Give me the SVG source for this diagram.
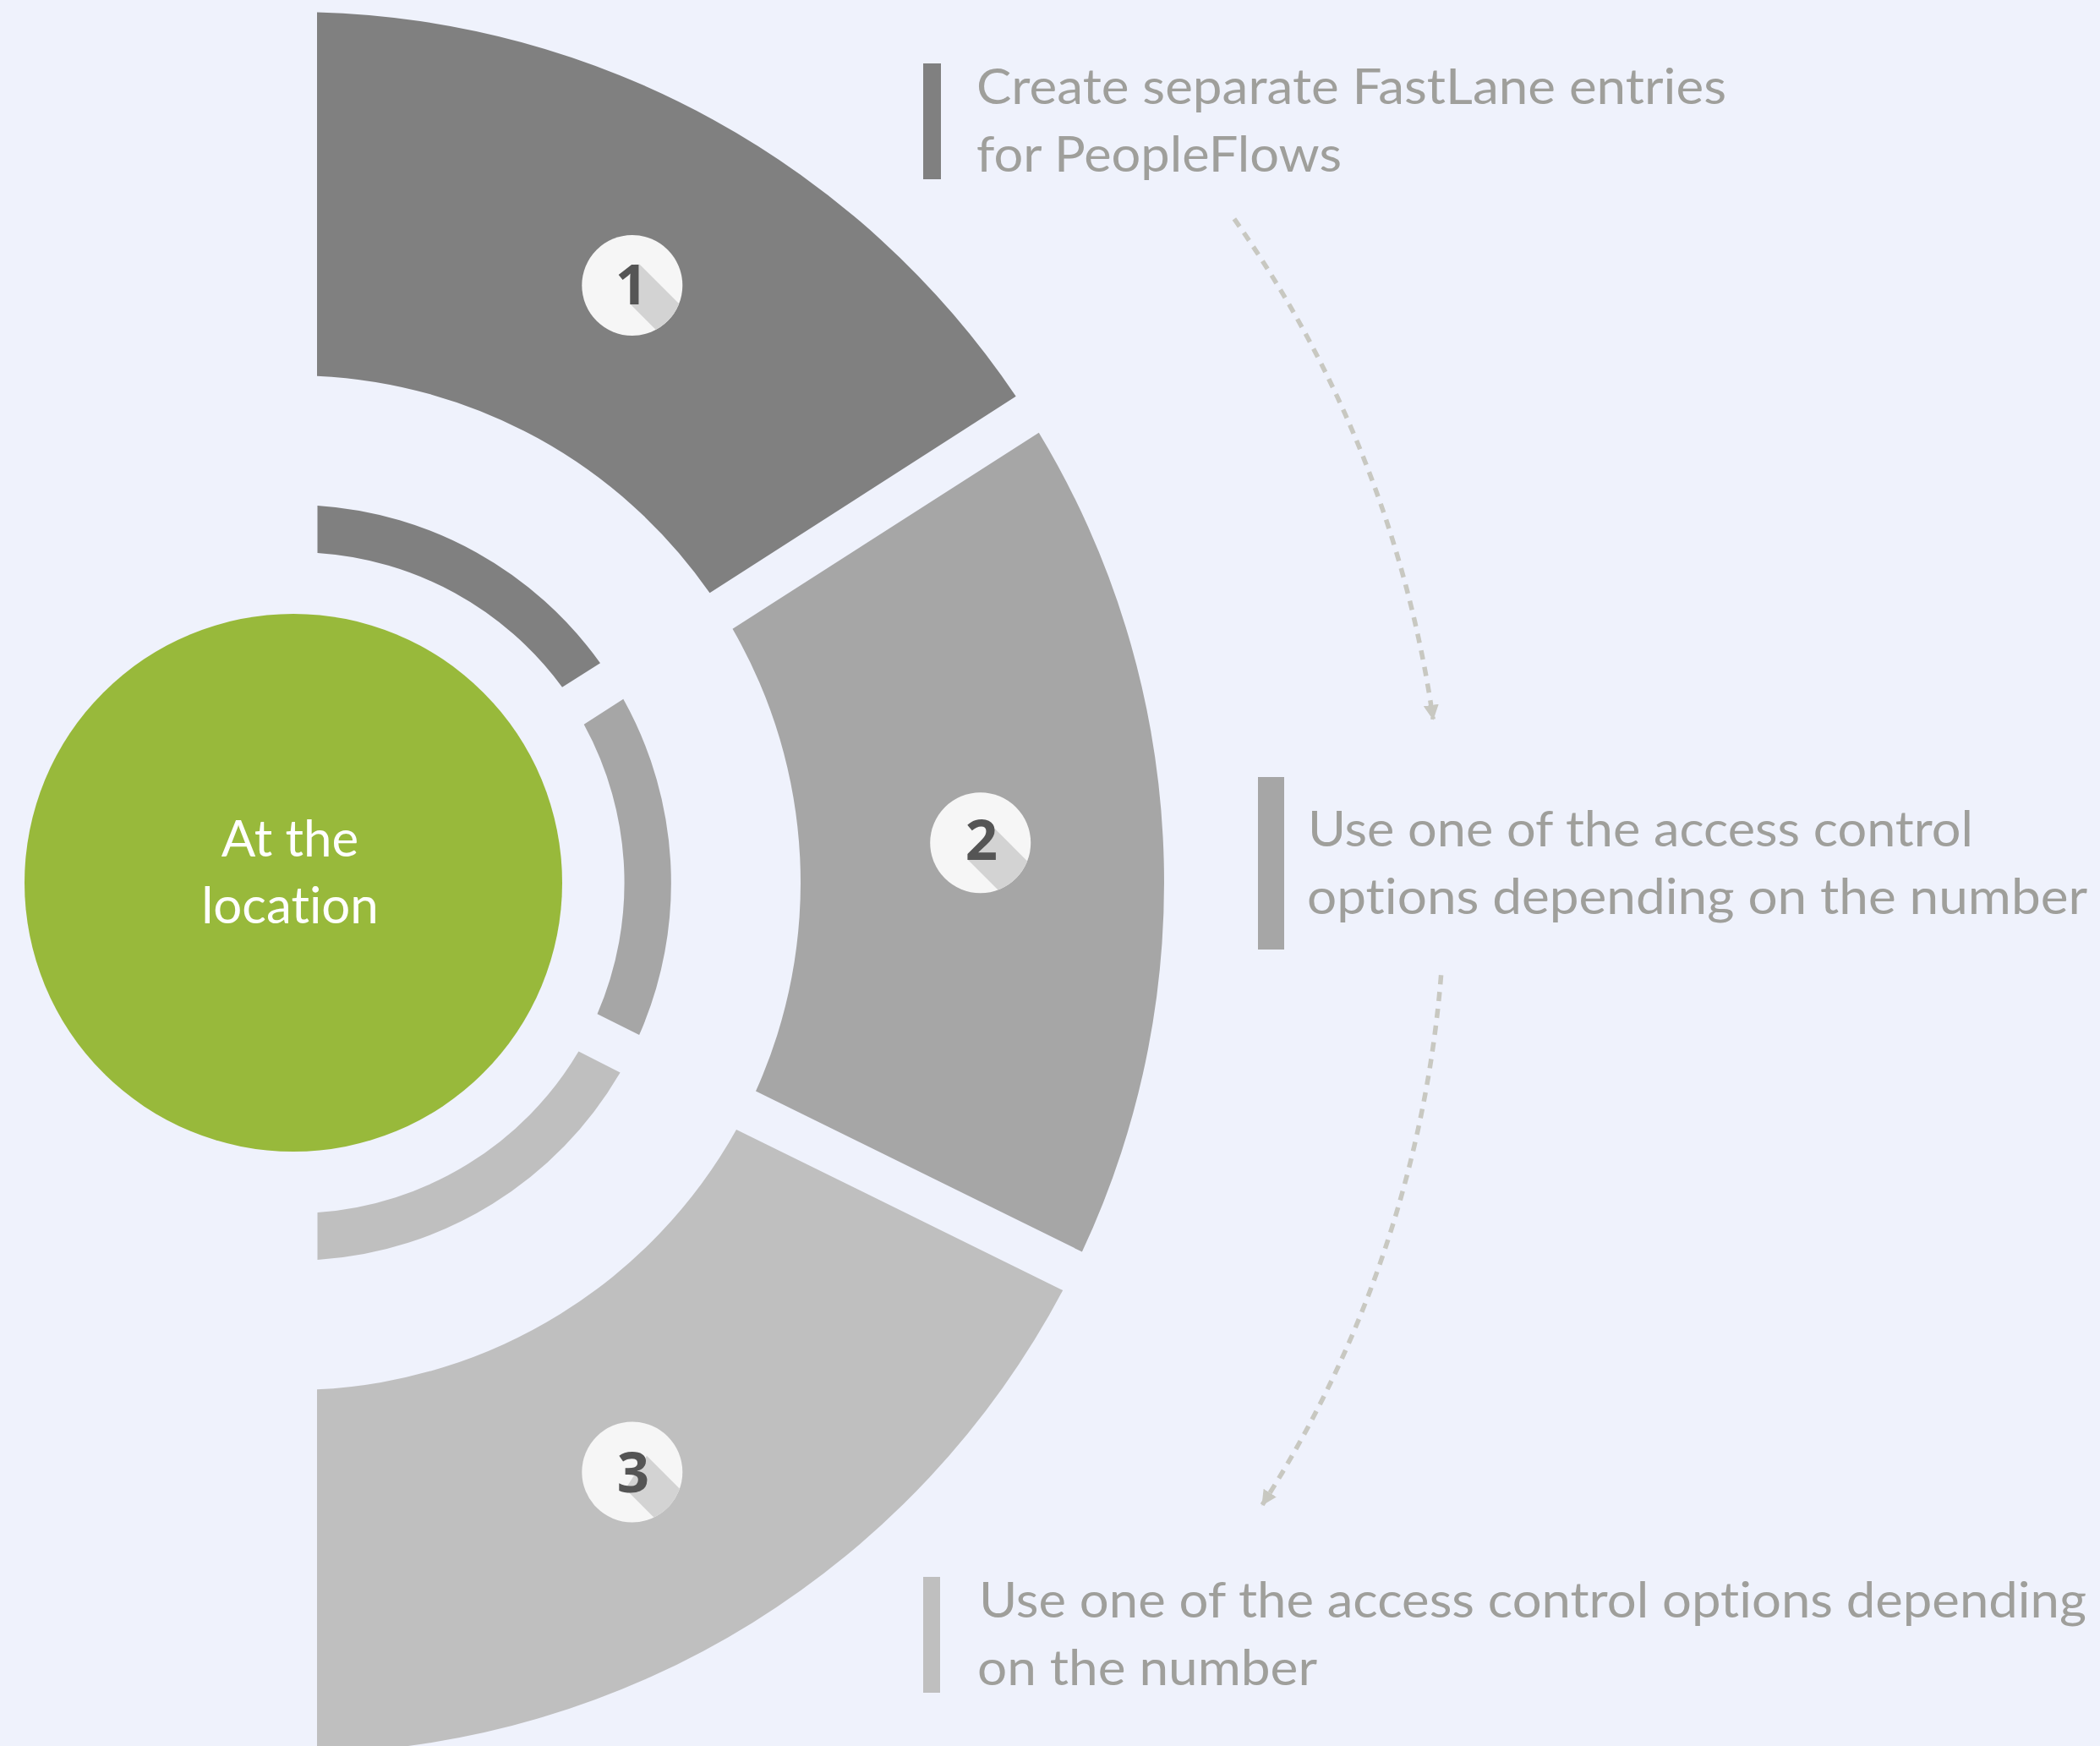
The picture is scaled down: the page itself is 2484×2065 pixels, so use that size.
<svg xmlns="http://www.w3.org/2000/svg" width="2484" height="2065" viewBox="0 0 2484 2065">
  <style>
    .bg { fill: #eff2fc; }
    .seg1 { fill: #808080; }
    .seg2 { fill: #a6a6a6; }
    .seg3 { fill: #bfbfbf; }
    .badge { fill: #f6f6f6; }
    .shadow { fill: #d3d3d3; }
    text { font-variant-ligatures: none; font-feature-settings: "liga" 0, "clig" 0, "dlig" 0; }
    .num { font-family: "Open Sans", "DejaVu Sans", sans-serif; font-weight: 700; font-size: 67px; fill: #555555; text-anchor: middle; }
    .desc { font-family: Lato, "Liberation Sans", sans-serif; font-size: 58px; fill: #9f9f9b; }
    .label { font-family: Lato, "Liberation Sans", sans-serif; font-size: 60px; fill: #ffffff; text-anchor: middle; }
    .conn { fill: none; stroke: #c8c8c1; stroke-width: 5.5; stroke-dasharray: 11 9; marker-end: url(#ah); }
  </style>
  <defs>
    <clipPath id="badgeClip">
      <circle cx="0" cy="0" r="59.5"/>
    </clipPath>
    <marker id="ah" markerUnits="userSpaceOnUse" markerWidth="18" markerHeight="18" viewBox="0 0 16 16" refX="15" refY="8" orient="auto">
      <path d="M0,0 L16,8 L0,16 Z" fill="#c8c8c1"/>
    </marker>
  </defs>

  <rect class="bg" x="0" y="0" width="2484" height="2065"/>

  <g id="segment-1">
    <path class="seg1" d="M375 14.4 A1030 1030 0 0 1 1201.7 468.8 L839.5 701.3 A600 600 0 0 0 375 444.7 Z"/>
    <path class="seg1" d="M375.5 597.9 A447 447 0 0 1 710 784.3 L665 812.7 A391 391 0 0 0 375.5 654 Z"/>
  </g>
  <g id="segment-2">
    <path class="seg2" d="M1228.8 511.7 A1030 1030 0 0 1 1279.9 1480.5 L894 1290.5 A600 600 0 0 0 866.5 743.8 Z"/>
    <path class="seg2" d="M737.3 826.7 A447 447 0 0 1 756.1 1224.1 L706.5 1199.2 A391 391 0 0 0 690.7 856.7 Z"/>
  </g>
  <g id="segment-3">
    <path class="seg3" d="M871 1336 L1257.2 1526.1 A1030 1030 0 0 1 375 2073.6 L375 1643.3 A600 600 0 0 0 871 1336 Z"/>
    <path class="seg3" d="M684.4 1243.6 L733.6 1268.4 A447 447 0 0 1 375.5 1490.1 L375.5 1434 A391 391 0 0 0 684.4 1243.6 Z"/>
  </g>

  <g id="center">
    <circle cx="347" cy="1044" r="318" fill="#98b93b"/>
    <text class="label" x="343" y="1012.5">At the</text>
    <text class="label" x="343" y="1092">location</text>
  </g>

  <g id="badge-1" transform="translate(747.8,337.5)">
    <circle class="badge" cx="0" cy="0" r="59.5"/>
    <g clip-path="url(#badgeClip)">
      <polygon class="shadow" points="-2,22.5 -2,-19 3,-24.8 8.9,-24.8 108.9,75.2 98,122.5"/>
    </g>
    <text class="num" x="-0.8" y="22.5">1</text>
  </g>
  <g id="badge-2" transform="translate(1159.7,996.7)">
    <circle class="badge" cx="0" cy="0" r="59.5"/>
    <g clip-path="url(#badgeClip)">
      <polygon class="shadow" points="-14.7,20.3 15.3,-18.4 115.3,81.6 85.3,120.3"/>
    </g>
    <text class="num" x="1.3" y="20.3">2</text>
  </g>
  <g id="badge-3" transform="translate(747.8,1741)">
    <circle class="badge" cx="0" cy="0" r="59.5"/>
    <g clip-path="url(#badgeClip)">
      <polygon class="shadow" points="-8,20 17.2,-19.3 117.2,80.7 92,120"/>
    </g>
    <text class="num" x="1.2" y="23.5">3</text>
  </g>

  <g id="text-1">
    <rect x="1092" y="75" width="21" height="137" fill="#808080"/>
    <text class="desc" x="1155" y="123.3" textLength="887" lengthAdjust="spacingAndGlyphs">Create separate FastLane entries</text>
    <text class="desc" x="1155" y="203" textLength="432" lengthAdjust="spacingAndGlyphs">for PeopleFlows</text>
  </g>
  <g id="text-2">
    <rect x="1488" y="919" width="31" height="204" fill="#a6a6a6"/>
    <text class="desc" x="1547" y="1000.7" textLength="787" lengthAdjust="spacingAndGlyphs">Use one of the access control</text>
    <text class="desc" x="1546" y="1081" textLength="923" lengthAdjust="spacingAndGlyphs">options depending on the number</text>
  </g>
  <g id="text-3">
    <rect x="1092" y="1865" width="20" height="137" fill="#bfbfbf"/>
    <text class="desc" x="1158" y="1912.7" textLength="1310" lengthAdjust="spacingAndGlyphs">Use one of the access control options depending</text>
    <text class="desc" x="1156" y="1992.7" textLength="402" lengthAdjust="spacingAndGlyphs">on the number</text>
  </g>

  <g id="connectors">
    <path class="conn" d="M1459.9 258.9 A1362 1362 0 0 1 1695.2 850.7"/>
    <path class="conn" d="M1704.6 1153.2 A1362 1362 0 0 1 1493.1 1779.8"/>
  </g>
</svg>
